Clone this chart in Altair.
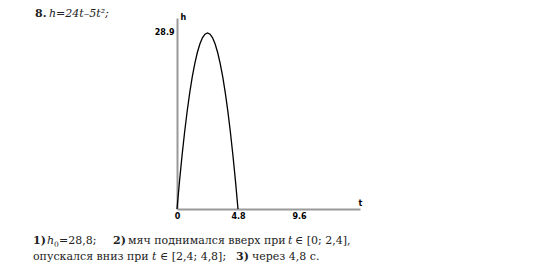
import altair as alt
import pandas as pd

# values
t_vals = [0, 0.2, 0.4, 0.6, 0.8, 1.0, 1.2, 1.4, 1.6, 1.8, 2.0, 2.2, 2.4,
          2.6, 2.8, 3.0, 3.2, 3.4, 3.6, 3.8, 4.0, 4.2, 4.4, 4.6, 4.8]
h_vals = [0, 4.6, 8.8, 12.6, 16.0, 19.0, 21.6, 23.8, 25.6, 27.0, 28.0, 28.6, 28.8,
          28.6, 28.0, 27.0, 25.6, 23.8, 21.6, 19.0, 16.0, 12.6, 8.8, 4.6, 0]
x_ticks = [0, 4.8, 9.6]
y_ticks = [28.8]
y_tick_label = "28.9"

df = pd.DataFrame({"t": t_vals, "h": h_vals})

OX, OY = 177, 18  # plot origin in page pixels
SERIF = "DejaVu Serif"
INK = "#222222"
FS = 11


def txt(s, X, Y, size=FS, weight="normal", style="normal", font=SERIF):
    return alt.Chart(df).transform_filter("datum.t == 0").mark_text(
        text=s, align="left", baseline="alphabetic", font=font, fontSize=size,
        fontWeight=weight, fontStyle=style, color=INK
    ).encode(x=alt.value(X - OX), y=alt.value(Y - OY))


curve = alt.Chart(df).mark_line(color="black", strokeWidth=1.3).encode(
    x=alt.X("t:Q", scale=alt.Scale(domain=[0, 14.4], nice=False, zero=False),
            axis=alt.Axis(values=x_ticks, format=".1~f", labelFlush=False, title="t",
                          titleX=183, titleY=-2,
                          titleAlign="center", titleBaseline="bottom")),
    y=alt.Y("h:Q", scale=alt.Scale(domain=[0, 31.25], nice=False, zero=False),
            axis=alt.Axis(values=y_ticks, labelExpr=f"'{y_tick_label}'", title="h",
                          titleAngle=0, titleX=3, titleY=-1, titleAlign="left",
                          titleBaseline="middle")),
)

L1, L2 = 244, 260
texts = [
    txt("8.", 35, 17, size=11, weight="bold"),
    txt("h=24t–5t²;", 49, 17, size=11, style="italic"),
    txt("1)", 33, L1, weight="bold"),
    txt("h", 47, L1, style="italic"),
    txt("0", 54, L1 + 3, size=7.5),
    txt("=28,8;", 59, L1),
    txt("2)", 113, L1, weight="bold"),
    txt("мяч поднимался вверх при", 128, L1),
    txt("t", 288, L1, style="italic"),
    txt("∈ [0; 2,4],", 295, L1),
    txt("опускался вниз при", 33, L2),
    txt("t", 152, L2, style="italic"),
    txt("∈ [2,4; 4,8];", 160, L2),
    txt("3)", 236, L2, weight="bold"),
    txt("через 4,8 с.", 252, L2),
]

chart = alt.layer(curve, *texts).properties(
    width=183, height=191,
    autosize=alt.AutoSizeParams(type="none"),
    padding={"left": OX, "top": OY, "right": 550 - OX - 183, "bottom": 273 - OY - 191},
    background="white",
).configure_view(stroke=None).configure_axis(
    domainColor="#999999", domainWidth=2, ticks=False, grid=False,
    labelFont="DejaVu Sans", labelFontWeight="bold", labelFontSize=8, labelColor="black",
    labelPadding=3, titleFont="DejaVu Sans", titleFontWeight="bold", titleFontSize=8,
    titleColor="black",
)

chart.save("out.html", embed_options={"renderer": "svg", "actions": False})
